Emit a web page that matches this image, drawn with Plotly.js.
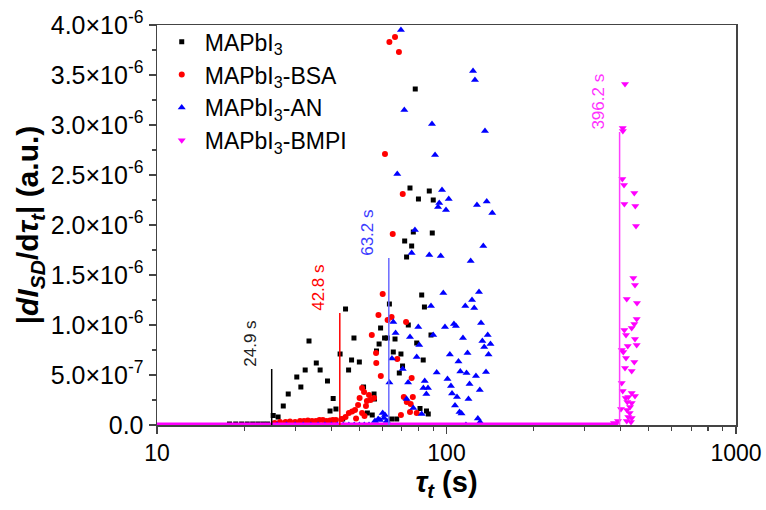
<!DOCTYPE html>
<html>
<head>
<meta charset="utf-8">
<script src="https://cdn.plot.ly/plotly-3.0.1.min.js"></script>
<style>html,body{margin:0;padding:0;background:#fff;}#chart{width:766px;height:510px;}</style>
</head>
<body>
<div id="chart"></div>
<script>
// values in units of 1e-6 (a.u.)
const SCALE = 1e-6;

const seriesNames = ['MAPbI<sub>3</sub>', 'MAPbI<sub>3</sub>-BSA', 'MAPbI<sub>3</sub>-AN', 'MAPbI<sub>3</sub>-BMPI'];

const blackX = [17.8, 18.7, 19.6, 20.5, 21.4, 22.3, 23.2, 24.1, 25.2, 26.2, 27.3, 28.4, 30.4, 31.4, 32.5, 33.5, 35.5, 36.6, 38.8, 39.6, 40.6, 41.5, 42.9, 43.8, 44.8, 45.9, 47.0, 47.9, 50.0, 51.7, 53.3, 55.4, 56.2, 56.4, 57.3, 58.5, 59.2, 61.1, 62.4, 63.5, 64.6, 65.5, 66.4, 67.3, 68.7, 69.6, 70.5, 71.7, 72.8, 73.8, 74.8, 75.8, 76.8, 78.0, 78.9, 80.0, 81.0, 82.1, 83.1, 83.9, 85.3, 86.5, 87.2, 88.4, 89.3, 90.0];
const blackY = [0.01, 0.01, 0.01, 0.01, 0.01, 0.01, 0.01, 0.01, 0.095, 0.08, 0.19, 0.31, 0.48, 0.38, 0.55, 0.84, 0.62, 0.55, 0.44, 0.14, 0.265, 0.16, 0.71, 0.06, 1.16, 0.55, 0.65, 0.87, 0.63, 0.38, 0.12, 0.10, 0.31, 0.26, 0.74, 0.81, 0.97, 0.87, 0.87, 1.21, 0.06, 0.73, 0.86, 0.06, 0.52, 0.71, 0.59, 1.84, 1.68, 1.00, 2.37, 1.79, 1.93, 3.36, 0.82, 2.26, 0.165, 1.30, 0.65, 1.18, 0.14, 0.11, 2.34, 0.90, 1.92, 2.25];

const redX = [25.5, 26.6, 27.8, 28.8, 30.0, 31.2, 32.2, 33.2, 34.3, 35.4, 36.4, 37.4, 38.5, 39.6, 40.5, 41.5, 43.4, 44.8, 46.0, 47.2, 48.3, 48.7, 49.5, 50.1, 51.1, 51.1, 51.9, 52.1, 52.7, 53.1, 54.0, 54.7, 55.2, 56.2, 57.1, 57.2, 58.2, 59.3, 60.2, 61.3, 62.6, 63.5, 64.6, 65.2, 66.4, 67.6, 68.5, 69.6, 70.6, 71.2, 72.5, 72.9, 74.8, 75.2, 75.8, 76.5, 78.9];
const redY = [0.02, 0.03, 0.03, 0.035, 0.03, 0.04, 0.04, 0.045, 0.04, 0.04, 0.05, 0.05, 0.04, 0.045, 0.05, 0.05, 0.06, 0.08, 0.12, 0.135, 0.15, 0.065, 0.20, 0.27, 0.37, 0.12, 0.33, 0.09, 0.19, 0.24, 0.30, 0.25, 0.90, 0.27, 0.72, 0.62, 1.10, 0.49, 1.31, 2.71, 1.05, 3.83, 1.08, 1.91, 3.88, 0.66, 3.73, 0.10, 2.31, 0.28, 1.03, 0.23, 0.13, 0.21, 0.47, 0.28, 0.12];

const blueX = [26, 28, 30, 32, 34, 36, 38, 40, 42, 44, 46, 48, 50, 52, 54, 56.6, 58.1, 58.9, 60.2, 60.8, 61.3, 62.2, 63.5, 64.8, 65.5, 66.7, 67.6, 69.6, 70.6, 71.5, 72.8, 73.7, 74.8, 75.8, 76.8, 77.8, 78.9, 79.9, 80.5, 82.1, 83.2, 84.1, 85.2, 86.3, 87.2, 88.4, 89.1, 90.0, 91.3, 92.5, 93.5, 94.4, 95.5, 96.5, 97.5, 98.8, 99.6, 100.8, 101.8, 102.7, 103.6, 104.5, 106.1, 107.0, 107.8, 108.7, 110.0, 110.9, 111.6, 112.7, 114.0, 116.1, 116.7, 117.3, 118.2, 119.1, 120.1, 121.2, 122.5, 123.5, 124.7, 125.4, 126.4, 127.4, 128.3, 129.5, 130.3, 130.6, 131.6, 133.0, 134.0, 135.0, 135.8, 136.9, 137.7, 138.8, 139.7, 141.9, 143.9];
const blueY = [0, 0, 0, 0, 0, 0, 0, 0, 0, 0, 0, 0, 0, 0, 0, 0.04, 0.06, 0.05, 0.12, 0.07, 0.10, 0.04, 0.425, 0.665, 1.03, 0.92, 2.51, 3.95, 0.56, 3.15, 0.26, 0.425, 0.88, 1.72, 0.17, 1.95, 0.68, 0.98, 0.80, 0.11, 0.37, 0.44, 0.31, 0.37, 1.70, 1.19, 3.01, 0.90, 2.70, 0.525, 2.18, 2.22, 1.69, 2.35, 1.32, 0.98, 2.15, 0.46, 2.26, 0.705, 0.39, 0.315, 1.01, 0.195, 0.99, 0.28, 0.635, 0.13, 0.535, 0.115, 0.87, 1.19, 0.0, 0.52, 0.72, 0.26, 0.41, 1.64, 1.25, 3.54, 1.17, 3.45, 0.49, 2.20, 0.065, 1.33, 0.35, 0.03, 1.02, 0.84, 1.79, 0.78, 2.94, 0.53, 2.235, 0.90, 0.705, 0.81, 2.12];

const magX = [10.8, 11.8, 12.9, 13.9, 15.0, 15.9, 16.9, 17.9, 18.8, 19.7, 20.6, 21.6, 22.5, 23.5, 24.4, 25.4, 26.4, 27.4, 28.4, 29.4, 378.9, 391.2, 400.7, 402.9, 402.9, 404.9, 406.2, 406.6, 406.2, 408.0, 410.4, 411.4, 411.4, 413.7, 413.7, 415.9, 416.9, 416.9, 419.4, 419.4, 420.3, 421.3, 422.7, 424.6, 424.6, 429.4, 430.5, 433.8, 436.2, 436.2, 436.2, 436.2, 436.2, 441.9, 445.4, 445.4, 445.4, 447.8, 447.8, 447.8, 448.9, 451.4, 453.9, 453.9, 455.0];
const magY = [0, 0, 0, 0, 0, 0, 0, 0, 0, 0, 0, 0, 0, 0, 0, 0, 0, 0, 0, 0, 0.02, 0.04, 0.16, 0.75, 0.42, 2.46, 2.97, 2.94, 0.34, 0.73, 2.40, 2.21, 0.95, 3.41, 0.57, 0.27, 0.90, 0.67, 1.26, 0.04, 0.15, 0.23, 0.79, 0.28, 0.08, 0.12, 0.18, 0.03, 0.97, 0.54, 0.32, 0.22, 0.07, 1.47, 2.32, 1.01, 0.63, 1.40, 0.86, 0.29, 2.19, 1.99, 1.06, 0.80, 1.22];

// magenta baseline (dense points merge into a line)
const magBaseX = [10, 392];
const magBaseY = [0, 0];

// onset markers
const onsetX = [24.9, 42.8, 63.2, 396.2];
const onsetTop = [0.56, 1.12, 1.67, 2.93];
const onsetLabels = ['24.9 s', '42.8 s', '63.2 s', '396.2 s'];
const onsetLineColors = ['#000000', '#ff0000', '#6a6aff', '#ff40ff'];
const onsetTextColors = ['#222222', '#ff0000', '#3c3cff', '#ff33ff'];

const yTickVals = [0, 0.5, 1.0, 1.5, 2.0, 2.5, 3.0, 3.5, 4.0];
const yTickText = ['0.0', '5.0×10<sup>-7</sup>', '1.0×10<sup>-6</sup>', '1.5×10<sup>-6</sup>', '2.0×10<sup>-6</sup>', '2.5×10<sup>-6</sup>', '3.0×10<sup>-6</sup>', '3.5×10<sup>-6</sup>', '4.0×10<sup>-6</sup>'];
const xTickVals = [10, 100, 1000];
const xMinorVals = [20, 30, 40, 50, 60, 70, 80, 90, 200, 300, 400, 500, 600, 700, 800, 900];

const sc = a => a.map(v => v * SCALE);

const traces = [];
traces.push({x: blackX, y: sc(blackY), mode: 'markers', type: 'scatter', name: seriesNames[0],
  marker: {symbol: 'square', size: 5, color: '#000000'}});
traces.push({x: redX, y: sc(redY), mode: 'markers', type: 'scatter', name: seriesNames[1],
  marker: {symbol: 'circle', size: 6, color: '#ff0000'}});
traces.push({x: blueX, y: sc(blueY), mode: 'markers', type: 'scatter', name: seriesNames[2],
  marker: {symbol: 'triangle-up', size: 7, color: '#0000ff'}});
traces.push({x: magBaseX, y: sc(magBaseY), mode: 'lines', type: 'scatter', showlegend: false,
  line: {color: '#ff00ff', width: 5}, hoverinfo: 'skip'});
traces.push({x: magX, y: sc(magY), mode: 'markers', type: 'scatter', name: seriesNames[3],
  marker: {symbol: 'triangle-down', size: 7, color: '#ff00ff'}});

const annotations = [];
for (let i = 0; i < onsetX.length; i++) {
  traces.push({x: [onsetX[i], onsetX[i]], y: [0, onsetTop[i] * SCALE], mode: 'lines', type: 'scatter',
    showlegend: false, hoverinfo: 'skip', line: {color: onsetLineColors[i], width: 1.5}});
  annotations.push({x: Math.log10(onsetX[i]), y: onsetTop[i] * SCALE, xref: 'x', yref: 'y',
    text: onsetLabels[i], showarrow: false, textangle: -90, xanchor: 'center', yanchor: 'bottom',
    xshift: -22, yshift: 0, font: {size: 17, color: onsetTextColors[i], family: 'Liberation Sans, Arial, sans-serif'}});
}

const axisCol = '#444444';
const layout = {
  width: 766, height: 510,
  paper_bgcolor: '#ffffff', plot_bgcolor: '#ffffff',
  font: {family: 'Liberation Sans, Arial, sans-serif', color: '#000000'},
  margin: {l: 157, r: 30, t: 25, b: 85},
  showlegend: true,
  legend: {x: 0.003, y: 1.012, xanchor: 'left', yanchor: 'top', bgcolor: 'rgba(0,0,0,0)',
    font: {size: 23, color: '#000000'}, itemwidth: 36},
  annotations: annotations,
  xaxis: {
    type: 'log', range: [1, 3], tickmode: 'array', tickvals: xTickVals, ticktext: ['10', '100', '1000'],
    ticks: 'outside', ticklen: 7, tickwidth: 1.5, tickcolor: axisCol,
    showline: true, linecolor: axisCol, linewidth: 1.5, mirror: true,
    showgrid: false, zeroline: false, automargin: false,
    tickfont: {size: 23},
    minor: {tickmode: 'array', tickvals: xMinorVals, ticks: 'outside', ticklen: 4, tickwidth: 1.2, tickcolor: axisCol, showgrid: false},
    title: {text: '<b><i>τ</i><sub><i>t</i></sub> (s)</b>', font: {size: 29}, standoff: 5}
  },
  yaxis: {
    range: [0, 4 * SCALE], tickmode: 'array', tickvals: sc(yTickVals), ticktext: yTickText,
    ticks: 'outside', ticklen: 7, tickwidth: 1.5, tickcolor: axisCol,
    showline: true, linecolor: axisCol, linewidth: 1.5, mirror: true,
    showgrid: false, zeroline: false, automargin: false,
    tickfont: {size: 25},
    minor: {dtick: 0.25 * SCALE, tick0: 0, ticks: 'outside', ticklen: 4, tickwidth: 1.2, tickcolor: axisCol, showgrid: false},
    title: {text: '<b>|<i>dI</i><sub><i>SD</i></sub>/d<i>τ</i><sub><i>t</i></sub>| (a.u.)</b>', font: {size: 30}}
  }
};

Plotly.newPlot('chart', traces, layout, {displayModeBar: false, staticPlot: true});
</script>
</body>
</html>
